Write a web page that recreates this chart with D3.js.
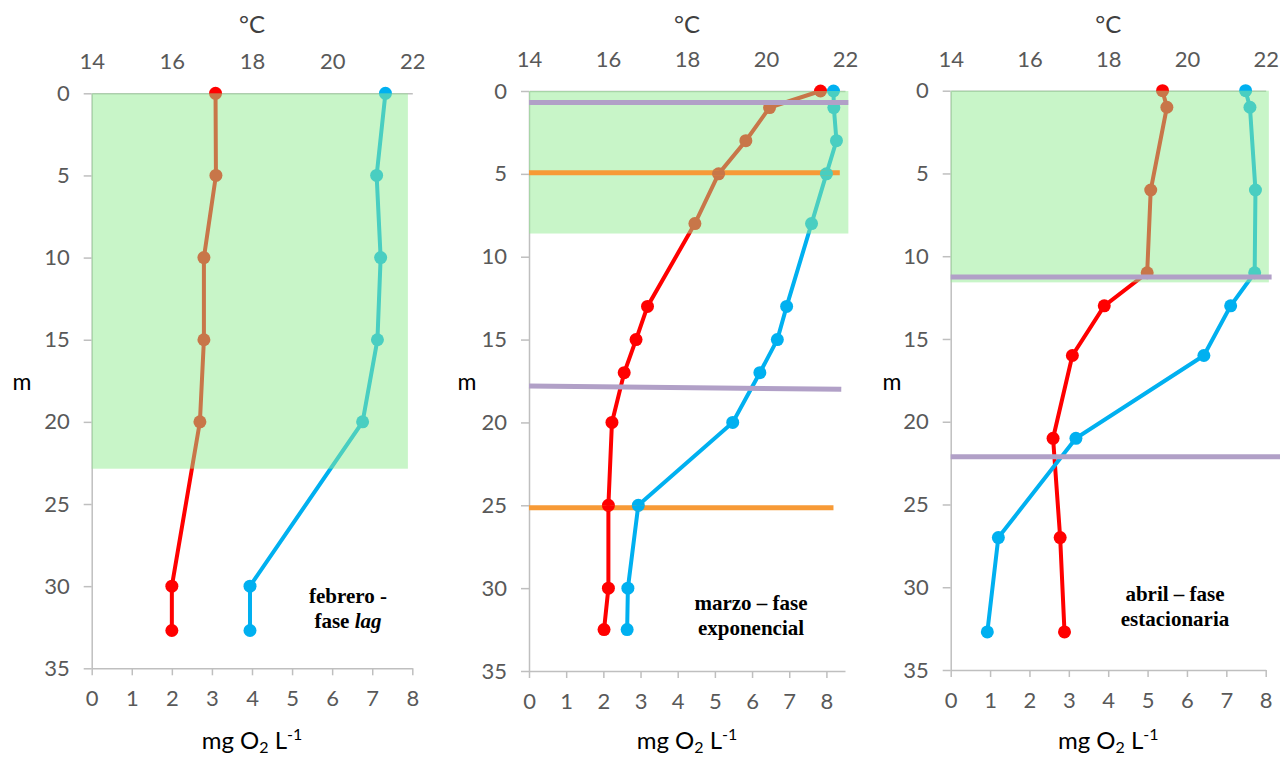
<!DOCTYPE html>
<html><head><meta charset="utf-8">
<script src="https://cdn.jsdelivr.net/npm/d3@7"></script>
<style>
body{margin:0;background:#fff}
text{font-family:Lato,"Open Sans",sans-serif}
</style></head><body>
<svg id="chart" width="1280" height="757"></svg>
<script>
// ---------------- DATA ----------------
const depthTicks = [0,5,10,15,20,25,30,35];
const tempTicks = [14,16,18,20,22];
const o2Ticks = [0,1,2,3,4,5,6,7,8];

// febrero
const depthFeb = [0,5,10,15,20,30,32.7];
const tempFeb  = [17.09,17.1,16.8,16.8,16.7,16.0,16.0];
const o2Feb    = [7.33,7.11,7.21,7.13,6.76,3.95,3.95];
// marzo
const depthMar = [0,1,3,5,8,13,15,17,20,25,30,32.5];
const tempMar  = [21.38,20.09,19.49,18.8,18.2,17.0,16.71,16.41,16.1,16.01,16.01,15.9];
const o2Mar    = [8.19,8.2,8.27,8.0,7.6,6.93,6.68,6.21,5.48,2.94,2.66,2.64];
// abril
const depthApr = [0,1,6,11,13,16,21,27,32.7];
const tempApr  = [19.38,19.49,19.08,18.99,17.9,17.09,16.6,16.78,16.89];
const o2Apr    = [7.49,7.6,7.74,7.72,7.11,6.43,3.18,1.21,0.93];

// mixed (green) layer: depth bottom and O2 extent
const greenDepth = [22.85, 8.6, 11.58];
const greenO2Max = [7.89, 8.59, 8.08];

// horizontal reference lines [depthLeft, depthRight, o2End]
const purpleMar = [[0.7,0.7,8.59],[17.8,18.0,8.4]];
const orangeMar = [[4.93,4.93,8.36],[25.15,25.15,8.19]];
const purpleApr = [[11.26,11.26,8.15],[22.11,22.11,8.4]];

const phaseLabels = [["febrero -","fase |lag"],["marzo – fase","exponencial"],["abril – fase","estacionaria"]];
const o2Domains = [[0,8],[0,8.5],[0,8]];

// ---------------- LAYOUT ----------------
const layout = [
  {x0:91.7, x1:412.3, y0:93.3, y1:668.3, lab:[348,596], mX:22},
  {x0:529,  x1:845,   y0:91,   y1:671,   lab:[751,603], mX:467},
  {x0:950.7,x1:1265.7,y0:90.7, y1:670,   lab:[1175,594], mX:892}
];
const series = [
  {depth:depthFeb,temp:tempFeb,o2:o2Feb,purple:[],orange:[]},
  {depth:depthMar,temp:tempMar,o2:o2Mar,purple:purpleMar,orange:orangeMar},
  {depth:depthApr,temp:tempApr,o2:o2Apr,purple:purpleApr,orange:[]}
];

const svg = d3.select("#chart");
const defs = svg.append("defs");
const AX = "#bfbfbf", TXT = "#595959";
const RED = "#ff0000", BLUE = "#00b0f0", RED_G = "rgb(200,118,72)", BLUE_G = "rgb(72,206,192)";

layout.forEach((L,i)=>{
  const S = series[i];
  const y = d3.scaleLinear().domain([0,35]).range([L.y0,L.y1]);
  const xT = d3.scaleLinear().domain([14,22]).range([L.x0,L.x1]);
  const xO = d3.scaleLinear().domain(o2Domains[i]).range([L.x0,L.x1]);
  const g = svg.append("g");

  // left axis
  const la = g.append("g").attr("transform",`translate(${L.x0},0)`)
    .call(d3.axisLeft(y).tickValues(depthTicks).tickSize(8).tickSizeOuter(0).tickPadding(14));
  // bottom axis
  const ba = g.append("g").attr("transform",`translate(0,${L.y1})`)
    .call(d3.axisBottom(xO).tickValues(o2Ticks).tickSize(7).tickSizeOuter(0).tickPadding(15));
  // top axis
  const ta = g.append("g").attr("transform",`translate(0,${L.y0})`)
    .call(d3.axisTop(xT).tickValues(tempTicks).tickSize(0).tickSizeOuter(0).tickPadding(24));
  [la,ba,ta].forEach(a=>{
    a.attr("font-family",null);
    a.select(".domain").attr("stroke",AX).attr("stroke-width",1.5);
    a.selectAll(".tick line").attr("stroke",AX).attr("stroke-width",1.5);
    a.selectAll(".tick text").attr("fill",TXT).style("font-size","22px").style("font-family","Lato");
  });

  // series
  const lineT = d3.line().x(d=>xT(d[1])).y(d=>y(d[0]));
  const lineO = d3.line().x(d=>xO(d[1])).y(d=>y(d[0]));
  const ptsT = S.depth.map((d,k)=>[d,S.temp[k]]);
  const ptsO = S.depth.map((d,k)=>[d,S.o2[k]]);
  function drawSeries(parent, cT, cO){
    parent.append("path").datum(ptsT).attr("d",lineT).attr("fill","none").attr("stroke",cT).attr("stroke-width",4);
    parent.selectAll(".pt").data(ptsT).join("circle").attr("class","pt")
      .attr("cx",d=>xT(d[1])).attr("cy",d=>y(d[0])).attr("r",6.5).attr("fill",cT);
    parent.append("path").datum(ptsO).attr("d",lineO).attr("fill","none").attr("stroke",cO).attr("stroke-width",4);
    parent.selectAll(".po").data(ptsO).join("circle").attr("class","po")
      .attr("cx",d=>xO(d[1])).attr("cy",d=>y(d[0])).attr("r",6.5).attr("fill",cO);
  }
  drawSeries(g.append("g"), RED, BLUE);

  // green overlay
  g.append("rect").attr("x",xO(0)).attr("y",y(0))
    .attr("width",xO(greenO2Max[i])-xO(0)).attr("height",y(greenDepth[i])-y(0))
    .attr("fill","rgb(145,235,145)").attr("fill-opacity",0.5);

  // orange lines (beneath the series marks)
  S.orange.forEach((r,k)=>{
    g.append("line").attr("x1",xO(0)).attr("x2",xO(r[2])).attr("y1",y(r[0])).attr("y2",y(r[1]))
      .attr("stroke","#f79a36").attr("stroke-width",5);
    const id = `clipO${i}_${k}`;
    defs.append("clipPath").attr("id",id).append("rect")
      .attr("x",xO(0)).attr("width",xO(r[2])-xO(0))
      .attr("y",Math.min(y(r[0]),y(r[1]))-2.5).attr("height",Math.abs(y(r[1])-y(r[0]))+5);
    const inGreen = r[0] < greenDepth[i];
    drawSeries(g.append("g").attr("clip-path",`url(#${id})`), inGreen?RED_G:RED, inGreen?BLUE_G:BLUE);
  });
  S.purple.forEach(r=>{
    g.append("line").attr("x1",xO(0)).attr("x2",xO(r[2])).attr("y1",y(r[0])).attr("y2",y(r[1]))
      .attr("stroke","#b1a0c7").attr("stroke-width",5);
  });

  // phase label
  const serif = "'Liberation Serif','Times New Roman',serif";
  const t = g.append("text").attr("x",L.lab[0]).attr("y",L.lab[1]+7).attr("text-anchor","middle")
    .style("font-family",serif).style("font-weight","bold").style("font-size","21px").attr("fill","#000");
  t.append("tspan").text(phaseLabels[i][0]);
  const l2 = phaseLabels[i][1].split("|");
  const t2 = g.append("text").attr("x",L.lab[0]).attr("y",L.lab[1]+31.5).attr("text-anchor","middle")
    .style("font-family",serif).style("font-weight","bold").style("font-size","21px").attr("fill","#000");
  t2.append("tspan").text(l2[0]);
  if(l2.length>1) t2.append("tspan").style("font-style","italic").text(l2[1]);

  // axis titles
  const cx = (L.x0+L.x1)/2;
  g.append("text").attr("x",cx).attr("y",33).attr("text-anchor","middle")
    .style("font-size","24px").attr("fill","#404040").text("°C");
  g.append("text").attr("x",L.mX).attr("y",390).attr("text-anchor","middle")
    .style("font-size","23px").attr("fill","#000").text("m");
  const mt = g.append("text").attr("x",cx).attr("y",749).attr("text-anchor","middle")
    .style("font-size","24px").attr("fill","#000");
  mt.append("tspan").text("mg O");
  mt.append("tspan").attr("dy",4).style("font-size","16px").text("2");
  mt.append("tspan").attr("dy",-4).text(" L");
  mt.append("tspan").attr("dy",-9).style("font-size","16px").text("-1");
});
</script>
</body></html>
